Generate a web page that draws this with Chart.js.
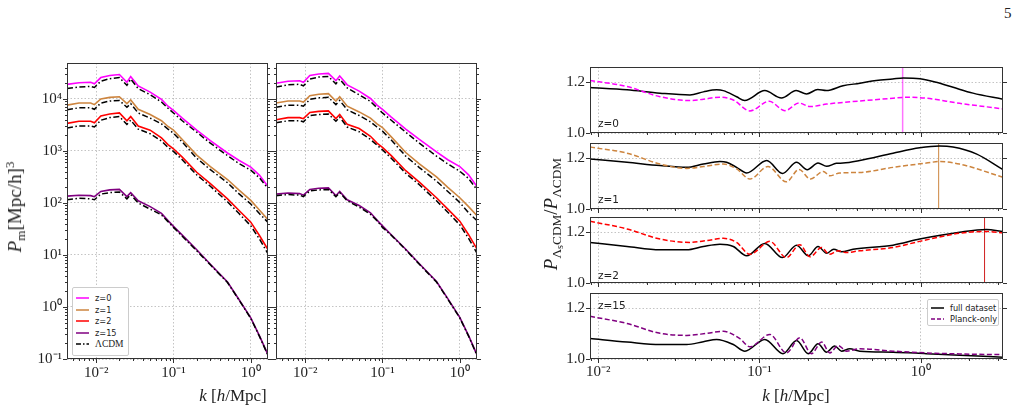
<!DOCTYPE html>
<html>
<head>
<meta charset="utf-8">
<script src="https://cdn.jsdelivr.net/npm/chart.js@4.4.0/dist/chart.umd.min.js"></script>
<style>
html, body { margin: 0; padding: 0; background: #fff; }
#page { position: relative; width: 1020px; height: 411px; overflow: hidden; font-family: 'Liberation Serif', serif; color: #222; }
canvas { position: absolute; }
.txt { position: absolute; white-space: nowrap; line-height: 1; }
.rot { transform: translate(-50%, -50%) rotate(-90deg); }
.ctr { transform: translate(-50%, -50%); }
.title { font-size: 17px; }
.big { font-size: 19px; }
.title sub { font-size: 70%; vertical-align: -0.3em; }
.title sup { font-size: 70%; vertical-align: 0.5em; }
.title sub sub { font-size: 75%; vertical-align: -0.2em; }
.legend { position: absolute; background: #fff; border: 1px solid #ccc; border-radius: 2px; font-family: 'DejaVu Sans', sans-serif; font-size: 8.2px; color: #222; }
.legend .row { position: absolute; left: 3px; height: 10px; display: flex; align-items: center; }
.legend svg { margin-right: 6px; }
.zlab { font-family: 'DejaVu Sans', sans-serif; font-size: 10.5px; color: #222; }
</style>
</head>
<body>
<div id="page">
  <canvas id="pkA" width="280" height="340" style="left:0px;top:50px"></canvas>
  <canvas id="pkB" width="280" height="340" style="left:209px;top:50px"></canvas>
  <canvas id="r0" width="460" height="84" style="left:560px;top:57px"></canvas>
  <canvas id="r1" width="460" height="84" style="left:560px;top:133px"></canvas>
  <canvas id="r2" width="460" height="84" style="left:560px;top:207px"></canvas>
  <canvas id="r15" width="460" height="125" style="left:560px;top:283px"></canvas>

  <div class="txt" style="left:1004px;top:6px;font-size:15px">5</div>

  <div class="txt title big rot" style="left:15px;top:207px"><i>P</i><sub>m</sub>[Mpc/h]<sup>3</sup></div>
  <div class="txt title ctr" style="left:233px;top:395px"><i>k</i> [<i>h</i>/Mpc]</div>
  <div class="txt title big rot" style="left:553px;top:214px"><i>P</i><sub>Λ<sub>s</sub>CDM</sub>/<i>P</i><sub>ΛCDM</sub></div>
  <div class="txt title ctr" style="left:796px;top:395px"><i>k</i> [<i>h</i>/Mpc]</div>

  <div class="txt zlab" style="left:598px;top:118px">z=0</div>
  <div class="txt zlab" style="left:598px;top:194px">z=1</div>
  <div class="txt zlab" style="left:598px;top:270px">z=2</div>
  <div class="txt zlab" style="left:598px;top:300px">z=15</div>

  <div class="legend" style="left:72px;top:287px;width:55px;height:67px">
    <div class="row" style="top:5px"><svg width="13" height="4"><line x1="0" y1="2" x2="13" y2="2" stroke="#ff00ff" stroke-width="1.5"/></svg>z=0</div>
    <div class="row" style="top:17px"><svg width="13" height="4"><line x1="0" y1="2" x2="13" y2="2" stroke="#cd853f" stroke-width="1.5"/></svg>z=1</div>
    <div class="row" style="top:28px"><svg width="13" height="4"><line x1="0" y1="2" x2="13" y2="2" stroke="#ff0000" stroke-width="1.5"/></svg>z=2</div>
    <div class="row" style="top:40px"><svg width="13" height="4"><line x1="0" y1="2" x2="13" y2="2" stroke="#800080" stroke-width="1.5"/></svg>z=15</div>
    <div class="row" style="top:51px"><svg width="13" height="4"><line x1="0" y1="2" x2="13" y2="2" stroke="#000" stroke-width="1.5" stroke-dasharray="5 2 1.5 2"/></svg><span style="font-family:'Liberation Serif',serif;font-size:9.5px">ΛCDM</span></div>
  </div>

  <div class="legend" style="left:927px;top:299px;width:70px;height:25px">
    <div class="row" style="top:3px"><svg width="13" height="4"><line x1="0" y1="2" x2="13" y2="2" stroke="#000" stroke-width="1.5"/></svg>full dataset</div>
    <div class="row" style="top:14px"><svg width="13" height="4"><line x1="0" y1="2" x2="13" y2="2" stroke="#800080" stroke-width="1.5" stroke-dasharray="4 2"/></svg>Planck-only</div>
  </div>
</div>

<script>
// ---- left panels: matter power spectrum P(k) ----
const kL = [0.0042, 0.006, 0.0085, 0.0095, 0.0115, 0.015, 0.02, 0.025, 0.028, 0.035, 0.05, 0.07, 0.085, 0.1, 0.13, 0.2, 0.3, 0.5, 0.7, 1.0, 1.3, 1.66];

// first panel
const pA_z0 = [1.90e4, 2.04e4, 2.09e4, 1.95e4, 2.57e4, 2.82e4, 2.95e4, 2.09e4, 2.69e4, 1.78e4, 1.35e4, 9770, 7240, 6030, 4270, 2510, 1580, 912, 661, 490, 339, 209];
const pA_lcdm0 = [1.58e4, 1.70e4, 1.74e4, 1.66e4, 2.19e4, 2.45e4, 2.57e4, 1.82e4, 2.40e4, 1.58e4, 1.20e4, 8710, 6610, 5370, 3800, 2290, 1410, 813, 575, 427, 302, 191];
const pA_z1 = [7590, 8320, 8320, 7760, 1.00e4, 1.07e4, 1.10e4, 8130, 9550, 6310, 5010, 3800, 2950, 2510, 1660, 832, 501, 282, 178, 112, 72.4, 47.9];
const pA_lcdm1 = [6170, 6760, 6760, 6310, 8320, 9120, 9330, 6920, 8130, 5370, 4270, 3310, 2630, 2190, 1480, 724, 437, 245, 151, 95.5, 61.7, 42.7];
const pA_z2 = [3390, 3720, 3720, 3470, 4680, 5130, 5370, 3800, 4570, 3020, 2510, 1780, 1320, 1100, 759, 389, 234, 120, 72.4, 42.7, 23.4, 12.9];
const pA_lcdm2 = [2750, 3020, 3020, 2880, 3890, 4370, 4570, 3240, 3890, 2630, 2140, 1550, 1170, 977, 676, 347, 209, 105, 63.1, 36.3, 20.0, 10.7];
const pA_z15 = [135, 141, 138, 132, 166, 178, 182, 132, 158, 110, 85.1, 63.1, 45.7, 35.5, 24.0, 12.6, 6.61, 3.02, 1.41, 0.617, 0.275, 0.123];
const pA_lcdm15 = [115, 123, 120, 115, 148, 158, 162, 120, 145, 100, 75.9, 58.9, 43.7, 33.9, 22.9, 12.0, 6.46, 2.95, 1.38, 0.603, 0.269, 0.120];

// second panel
const pB_z0 = [2.00e4, 2.19e4, 2.24e4, 2.09e4, 2.82e4, 3.02e4, 3.09e4, 2.24e4, 2.75e4, 1.86e4, 1.41e4, 1.02e4, 7590, 6310, 4470, 2630, 1660, 955, 676, 501, 347, 209];
const pB_lcdm0 = [1.70e4, 1.86e4, 1.91e4, 1.78e4, 2.40e4, 2.63e4, 2.69e4, 1.95e4, 2.40e4, 1.62e4, 1.20e4, 8910, 6760, 5370, 3890, 2290, 1410, 794, 562, 407, 295, 182];
const pB_z1 = [8320, 9120, 9120, 8710, 1.15e4, 1.23e4, 1.26e4, 9120, 1.10e4, 7240, 5620, 4270, 3310, 2820, 1860, 933, 562, 316, 200, 126, 85.1, 57.5];
const pB_lcdm1 = [6920, 7590, 7590, 7240, 9770, 1.05e4, 1.07e4, 7760, 9330, 6170, 4790, 3630, 2880, 2400, 1620, 794, 479, 263, 166, 102, 64.6, 46.0];
const pB_z2 = [3980, 4370, 4370, 4170, 5500, 5750, 5890, 4170, 5010, 3240, 2690, 1910, 1410, 1170, 813, 417, 251, 126, 75.9, 44.7, 24.5, 13.2];
const pB_lcdm2 = [3470, 3800, 3800, 3630, 4790, 5010, 5130, 3720, 4470, 2880, 2340, 1660, 1290, 1050, 724, 372, 224, 110, 66.1, 38.0, 20.9, 11.0];
const pB_z15 = [148, 155, 151, 141, 182, 191, 195, 138, 166, 115, 89.1, 64.6, 46.8, 36.3, 24.5, 12.9, 6.76, 3.09, 1.45, 0.631, 0.282, 0.123];
const pB_lcdm15 = [138, 145, 141, 132, 170, 178, 182, 132, 158, 110, 83.2, 60.3, 45.7, 33.9, 24.0, 12.6, 6.61, 3.02, 1.41, 0.617, 0.275, 0.120];

// ---- right panels: ratio to LCDM, full dataset vs Planck-only ----
const kF0 = [0.0089, 0.0151, 0.0242, 0.0371, 0.0449, 0.0543, 0.0597, 0.0722, 0.081, 0.108, 0.137, 0.169, 0.196, 0.23, 0.26, 0.33, 0.42, 0.53, 0.67, 0.78, 0.99, 1.25, 1.59, 2.11, 3.24];
const rF0 = [1.179, 1.170, 1.157, 1.150, 1.162, 1.170, 1.167, 1.143, 1.128, 1.167, 1.138, 1.167, 1.154, 1.171, 1.167, 1.186, 1.196, 1.207, 1.213, 1.217, 1.214, 1.200, 1.180, 1.157, 1.133];
const kP0 = [0.0089, 0.0151, 0.0242, 0.0371, 0.0449, 0.0569, 0.0689, 0.0873, 0.115, 0.144, 0.176, 0.206, 0.261, 0.419, 0.674, 0.855, 1.084, 1.744, 3.24];
const rP0 = [1.207, 1.183, 1.143, 1.128, 1.133, 1.141, 1.130, 1.087, 1.125, 1.088, 1.118, 1.104, 1.114, 1.126, 1.137, 1.141, 1.137, 1.117, 1.095];

const kF1 = [0.0089, 0.0151, 0.0242, 0.0354, 0.0449, 0.0569, 0.0626, 0.0722, 0.0833, 0.111, 0.139, 0.170, 0.198, 0.231, 0.261, 0.300, 0.330, 0.419, 0.674, 0.986, 1.311, 1.586, 2.212, 3.24];
const rF1 = [1.197, 1.184, 1.171, 1.164, 1.177, 1.187, 1.184, 1.164, 1.142, 1.191, 1.140, 1.184, 1.155, 1.181, 1.168, 1.180, 1.181, 1.191, 1.220, 1.241, 1.248, 1.244, 1.217, 1.155];
const kP1 = [0.0089, 0.0151, 0.0242, 0.0354, 0.0449, 0.0597, 0.0722, 0.0873, 0.113, 0.147, 0.176, 0.207, 0.249, 0.273, 0.315, 0.419, 0.674, 1.084, 1.311, 1.744, 3.24];
const rP1 = [1.244, 1.220, 1.177, 1.160, 1.167, 1.177, 1.158, 1.118, 1.167, 1.107, 1.156, 1.118, 1.148, 1.131, 1.142, 1.144, 1.164, 1.181, 1.187, 1.177, 1.125];

const kF2 = [0.0089, 0.0151, 0.0242, 0.0354, 0.0449, 0.0569, 0.0689, 0.0833, 0.108, 0.139, 0.170, 0.201, 0.231, 0.261, 0.289, 0.323, 0.381, 0.674, 0.986, 1.744, 2.551, 3.24];
const rF2 = [1.160, 1.144, 1.131, 1.131, 1.144, 1.153, 1.144, 1.107, 1.156, 1.100, 1.149, 1.107, 1.144, 1.117, 1.133, 1.123, 1.133, 1.149, 1.173, 1.200, 1.211, 1.203];
const kP2 = [0.0089, 0.0151, 0.0242, 0.0371, 0.0471, 0.0597, 0.0722, 0.0873, 0.116, 0.147, 0.178, 0.206, 0.243, 0.271, 0.308, 0.347, 0.419, 0.674, 0.986, 1.744, 2.551, 3.24];
const rP2 = [1.243, 1.213, 1.173, 1.160, 1.167, 1.176, 1.160, 1.113, 1.164, 1.100, 1.151, 1.103, 1.140, 1.113, 1.127, 1.120, 1.127, 1.140, 1.164, 1.196, 1.203, 1.197];

const kF15 = [0.0089, 0.0151, 0.0242, 0.0354, 0.0449, 0.0543, 0.0689, 0.0813, 0.108, 0.140, 0.170, 0.201, 0.231, 0.261, 0.293, 0.323, 0.363, 0.419, 0.674, 1.084, 1.744, 3.24];
const rF15 = [1.081, 1.067, 1.057, 1.057, 1.068, 1.077, 1.057, 1.031, 1.077, 1.021, 1.073, 1.021, 1.060, 1.027, 1.051, 1.031, 1.040, 1.031, 1.027, 1.021, 1.015, 1.007];
const kP15 = [0.0089, 0.0151, 0.0242, 0.0354, 0.0471, 0.0597, 0.0757, 0.0873, 0.116, 0.147, 0.178, 0.210, 0.243, 0.273, 0.308, 0.347, 0.419, 0.674, 1.084, 1.744, 3.24];
const rP15 = [1.168, 1.140, 1.101, 1.093, 1.101, 1.109, 1.080, 1.048, 1.097, 1.024, 1.084, 1.021, 1.067, 1.024, 1.053, 1.031, 1.040, 1.031, 1.024, 1.020, 1.017];

// vertical markers for z=0, 1, 2
const kMark = [0.773, 1.293, 2.49];

// axis ranges and ticks
const xRangeL = [0.0042, 1.67];
const yRangeL = [0.1, 4.9e4];
const xRangeR = [0.0089, 3.24];
const yRangeR = [1.0, 1.26];
const yTicksR = [1.0, 1.2];

const gridColor = '#b5b5b5';
const tickFont = { family: "'Liberation Serif', serif", size: 15 };
const SUP = { '-': '⁻', '0': '⁰', '1': '¹', '2': '²', '3': '³', '4': '⁴', '5': '⁵', '6': '⁶', '7': '⁷', '8': '⁸', '9': '⁹' };

function isDecade(v) {
    const l = Math.log10(v);
    return Math.abs(l - Math.round(l)) < 1e-9;
}

function decadeLabel(v) {
    if (!isDecade(v)) return '';
    return '10' + String(Math.round(Math.log10(v))).split('').map(c => SUP[c]).join('');
}

function logTicks(scale) {
    const out = [];
    const e0 = Math.floor(Math.log10(scale.min));
    const e1 = Math.ceil(Math.log10(scale.max));
    for (let e = e0; e <= e1; e++) {
        for (let m = 1; m < 10; m++) {
            const v = m * Math.pow(10, e);
            if (v >= scale.min * 0.9999 && v <= scale.max * 1.0001) out.push({ value: v });
        }
    }
    scale.ticks = out;
}

function pts(ks, vs) {
    return ks.map((k, i) => ({ x: k, y: vs[i] }));
}

// frame and outward tick marks (major / minor) on the requested sides
const framePlugin = {
    id: 'frame',
    afterDraw(chart, args, opts) {
        const ctx = chart.ctx;
        const a = chart.chartArea;
        const sx = chart.scales.x;
        const sy = chart.scales.y;
        ctx.save();
        ctx.strokeStyle = '#333';
        ctx.lineWidth = 1;
        const line = (x1, y1, x2, y2) => {
            ctx.beginPath();
            ctx.moveTo(x1, y1);
            ctx.lineTo(x2, y2);
            ctx.stroke();
        };
        sx.ticks.forEach(t => {
            const x = Math.round(sx.getPixelForValue(t.value)) + 0.5;
            const len = isDecade(t.value) ? 4 : 2;
            if (opts.bottom) line(x, a.bottom, x, a.bottom + len);
        });
        sy.ticks.forEach(t => {
            const y = Math.round(sy.getPixelForValue(t.value)) + 0.5;
            const len = (sy.type === 'linear' || isDecade(t.value)) ? 4 : 2;
            if (opts.left) line(a.left - len, y, a.left, y);
            if (opts.right) line(a.right, y, a.right + len, y);
        });
        ctx.strokeRect(a.left + 0.5, a.top + 0.5, a.right - a.left - 1, a.bottom - a.top - 1);
        ctx.restore();
    }
};

function makeOptions(o) {
    return {
        responsive: false,
        animation: false,
        events: [],
        layout: { padding: o.padding },
        plugins: {
            legend: { display: false },
            tooltip: { enabled: false },
            frame: o.frame
        },
        elements: { point: { radius: 0 } },
        scales: {
            x: {
                type: 'logarithmic',
                min: o.xRange[0],
                max: o.xRange[1],
                afterBuildTicks: logTicks,
                afterFit: s => { s.height = o.xHeight; s.paddingLeft = 0; s.paddingRight = 0; },
                grid: {
                    color: c => (c.tick && isDecade(c.tick.value)) ? gridColor : 'rgba(0,0,0,0)',
                    lineWidth: 0.8,
                    drawTicks: false
                },
                border: { display: false, dash: [1.5, 2] },
                ticks: {
                    autoSkip: false,
                    maxRotation: 0,
                    padding: o.xPad,
                    font: tickFont,
                    color: '#222',
                    callback: v => o.xLabels ? decadeLabel(v) : ''
                }
            },
            y: {
                type: o.yLog ? 'logarithmic' : 'linear',
                min: o.yRange[0],
                max: o.yRange[1],
                afterBuildTicks: o.yLog ? logTicks : (s => { s.ticks = yTicksR.map(v => ({ value: v })); }),
                afterFit: s => { s.width = o.yWidth; s.paddingTop = 0; s.paddingBottom = 0; },
                grid: {
                    color: c => {
                        if (!c.tick) return 'rgba(0,0,0,0)';
                        return (!o.yLog || isDecade(c.tick.value)) ? gridColor : 'rgba(0,0,0,0)';
                    },
                    lineWidth: 0.8,
                    drawTicks: false
                },
                border: { display: false, dash: [1.5, 2] },
                ticks: {
                    autoSkip: false,
                    padding: 5,
                    font: tickFont,
                    color: '#222',
                    callback: v => {
                        if (!o.yLabels) return '';
                        return o.yLog ? decadeLabel(v) : Number(v).toFixed(1);
                    }
                }
            }
        }
    };
}

const zColors = ['#ff00ff', '#cd853f', '#ff0000', '#800080'];

function spectrumDatasets(models, lcdms) {
    const sets = [];
    models.forEach((m, i) => {
        sets.push({ data: pts(kL, m), borderColor: zColors[i], borderWidth: 1.6, tension: 0, order: 2 });
    });
    lcdms.forEach(l => {
        sets.push({ data: pts(kL, l), borderColor: '#000', borderWidth: 1.5, borderDash: [6, 2.5, 1.5, 2.5], tension: 0, order: 1 });
    });
    return sets;
}

function spectrumChart(id, models, lcdms, withLabels) {
    new Chart(document.getElementById(id), {
        type: 'line',
        data: { datasets: spectrumDatasets(models, lcdms) },
        options: makeOptions({
            padding: { left: 0, top: 13, right: 12, bottom: 0 },
            xRange: xRangeL, yRange: yRangeL, yLog: true,
            xHeight: 31, xPad: 5, xLabels: true,
            yWidth: 67, yLabels: withLabels,
            frame: { left: true, right: true, bottom: true }
        }),
        plugins: [framePlugin]
    });
}

function ratioChart(id, kFull, rFull, kPl, rPl, color, mark, markColor, markWidth, isBottom) {
    const sets = [
        { data: pts(kFull, rFull), borderColor: '#000', borderWidth: 1.5, cubicInterpolationMode: 'monotone', order: 2 },
        { data: pts(kPl, rPl), borderColor: color, borderWidth: 1.5, borderDash: [5, 2.5], cubicInterpolationMode: 'monotone', order: 1 }
    ];
    if (mark !== null) {
        sets.push({ data: [{ x: mark, y: yRangeR[0] }, { x: mark, y: yRangeR[1] }], borderColor: markColor, borderWidth: markWidth, order: 3 });
    }
    new Chart(document.getElementById(id), {
        type: 'line',
        data: { datasets: sets },
        options: makeOptions({
            padding: { left: 0, top: 10, right: 17, bottom: 0 },
            xRange: xRangeR, yRange: yRangeR, yLog: false,
            xHeight: isBottom ? 49 : 8, xPad: 4, xLabels: isBottom,
            yWidth: 30, yLabels: true,
            frame: { left: true, right: true, bottom: true }
        }),
        plugins: [framePlugin]
    });
}

spectrumChart('pkA', [pA_z0, pA_z1, pA_z2, pA_z15], [pA_lcdm0, pA_lcdm1, pA_lcdm2, pA_lcdm15], true);
spectrumChart('pkB', [pB_z0, pB_z1, pB_z2, pB_z15], [pB_lcdm0, pB_lcdm1, pB_lcdm2, pB_lcdm15], false);

ratioChart('r0', kF0, rF0, kP0, rP0, '#ff00ff', kMark[0], 'rgba(255,0,255,0.55)', 1.5, false);
ratioChart('r1', kF1, rF1, kP1, rP1, '#cd853f', kMark[1], '#cd853f', 1, false);
ratioChart('r2', kF2, rF2, kP2, rP2, '#ff0000', kMark[2], '#d02020', 1, false);
ratioChart('r15', kF15, rF15, kP15, rP15, '#800080', null, null, 0, true);
</script>
</body>
</html>
